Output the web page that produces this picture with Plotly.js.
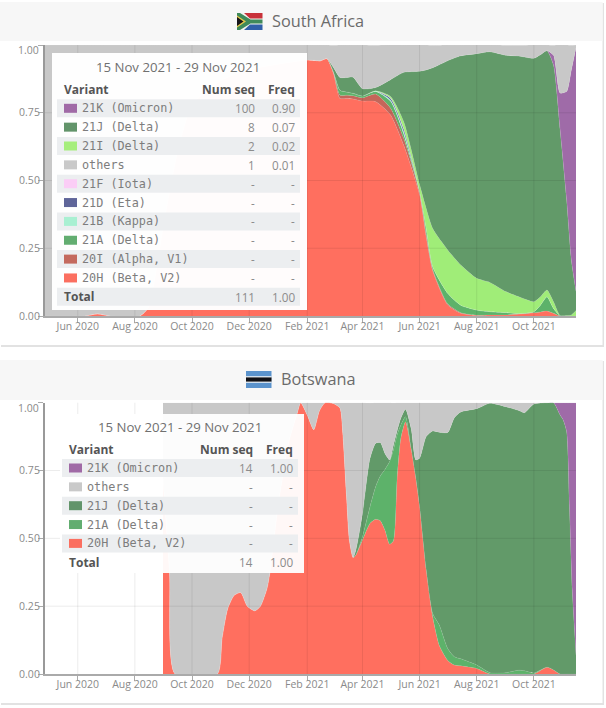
<!DOCTYPE html>
<html><head><meta charset="utf-8">
<script src="https://cdn.plot.ly/plotly-3.0.1.min.js"></script>
<style>html,body{margin:0;padding:0;background:#fff}#c{width:606px;height:708px}</style>
</head><body><div id="c"></div>
<script>
// ---------- South Africa data ----------
const zaDates=['2020-04-27','2020-06-08','2020-06-22','2020-07-06','2020-08-06','2020-08-15','2020-09-01','2020-09-15','2020-10-01','2020-11-01','2020-12-01','2021-01-01',
'2021-02-01','2021-02-15','2021-02-22','2021-03-01','2021-03-08','2021-03-15','2021-03-22','2021-04-01','2021-04-15','2021-05-01','2021-05-15','2021-06-01','2021-06-08','2021-06-15','2021-07-01','2021-07-15','2021-08-01','2021-08-15','2021-09-01','2021-09-15','2021-10-01','2021-10-08','2021-10-15','2021-10-22','2021-10-29','2021-11-05','2021-11-10','2021-11-15'];
const za20H=[0,0,.008,0,0,.03,.35,.6,.78,.87,.91,.93,.945,.942,.95,.895,.803,.803,.801,.793,.791,.742,.631,.447,.293,.167,.041,.01,.002,.004,.004,.007,.012,.015,.018,.01,0,0,0,0];
const za20I=[0,0,0,0,0,0,0,0,0,0,0,0,0,0,0,.004,.012,.012,.012,.012,.028,.025,.025,.009,.01,.005,.004,.002,.001,0,0,0,0,0,0,0,0,0,0,0];
const za21A=[0,0,0,0,0,0,0,0,0,0,0,0,0,0,0,.002,.018,.012,.009,.007,.009,.025,.016,.004,.021,.01,.039,.028,.019,.012,.009,.002,.004,.025,.053,.018,.002,0,0,0];
const za21B=[0,0,0,0,0,0,0,0,0,0,0,0,0,0,0,0,0,0,0,0,.002,.005,.009,0,0,0,0,0,0,0,0,0,0,0,0,0,0,0,0,0];
const za21D=[0,0,0,0,0,0,0,0,0,0,0,0,0,0,0,0,0,0,0,0,0,.006,.009,0,0,0,0,0,0,0,0,0,0,0,0,0,0,0,0,0];
const za21F=[0,0,0,0,0,0,0,0,0,0,0,0,0,0,0,0,0,0,0,0,0,.001,.002,0,0,0,0,0,0,0,0,0,0,0,0,0,0,0,0,0];
const za21I=[0,0,0,0,0,0,0,0,0,0,0,0,0,0,0,0,0,0,0,0,.001,.006,.026,.025,.074,.141,.16,.148,.117,.108,.077,.062,.037,.031,.025,.025,0,.002,.004,.02];
const za21J=[0,0,0,0,0,0,0,0,0,0,0,0,0,0,0,.016,.047,.053,.059,.027,.012,.062,.181,.418,.51,.593,.698,.772,.829,.851,.872,.888,.898,.893,.883,.872,.686,.426,.203,.07];
const za21K=[0,0,0,0,0,0,0,0,0,0,0,0,0,0,0,0,0,0,0,0,0,0,0,0,0,0,0,0,0,0,0,0,0,0,0,.037,.135,.4,.7,.9];
const zaOthers=[1,1,.992,1,1,.97,.65,.4,.22,.13,.09,.07,.055,.058,.05,.082,.12,.12,.119,.161,.156,.129,.102,.098,.092,.083,.058,.04,.033,.026,.037,.04,.049,.037,.021,.037,.178,.172,.092,.01];
// ---------- Botswana data ----------
const bwDates=['2020-08-31','2020-09-07','2020-09-13','2020-10-28','2020-11-02','2020-11-08','2020-11-15','2020-11-22','2020-11-29','2020-12-07','2020-12-13','2020-12-20','2020-12-23','2021-01-01','2021-01-12','2021-01-21','2021-01-25','2021-02-01','2021-02-08','2021-02-14','2021-02-20','2021-03-01','2021-03-08','2021-03-11','2021-03-15','2021-03-18','2021-03-22','2021-03-25','2021-04-01','2021-04-09','2021-04-15','2021-04-20','2021-04-25','2021-04-30','2021-05-04','2021-05-08','2021-05-12','2021-05-17','2021-05-23','2021-05-28','2021-06-01','2021-06-08','2021-06-15','2021-06-22','2021-07-01','2021-07-08','2021-07-15','2021-08-01','2021-08-15','2021-09-01','2021-09-15','2021-09-21','2021-10-01','2021-10-15','2021-10-22','2021-10-29','2021-11-01','2021-11-05','2021-11-08','2021-11-11','2021-11-15'];
const bw20H=[.72,.37,0,0,.13,.24,.29,.3,.25,.233,.25,.315,.37,.62,.85,.957,1,.955,.9,.97,1,.997,.98,.887,.654,.494,.429,.439,.494,.555,.57,.565,.53,.478,.49,.72,.87,.93,.83,.72,.617,.385,.21,.105,.05,.033,.03,.02,0,0,0,0,0,.025,.015,0,0,0,0,0,0];
const bw21A=[0,0,0,0,0,0,0,0,0,0,0,0,0,0,0,0,0,0,0,0,0,0,0,0,0,0,0,0,.012,.061,.12,.165,.224,.305,.335,.161,.048,.018,0,0,0,0,.013,.076,.044,.031,.026,.013,.005,.005,.014,.012,.004,0,0,0,0,0,0,0,0];
const bw21J=[0,0,0,0,0,0,0,0,0,0,0,0,0,0,0,0,0,0,0,0,0,0,0,0,0,0,0,.018,.086,.178,.16,.123,.059,.006,.018,.016,.025,.028,.075,.069,.178,.49,.673,.71,.796,.88,.91,.945,.993,.98,.957,.951,.991,.975,.985,.955,.939,.893,.617,.31,.07];
const bw21K=[0,0,0,0,0,0,0,0,0,0,0,0,0,0,0,0,0,0,0,0,0,0,0,0,0,0,0,0,0,0,0,0,0,0,0,0,0,0,0,0,0,0,0,0,0,0,0,0,0,0,0,0,0,0,0,.045,.061,.107,.383,.69,.93];
const bwOthers=[.28,.63,1,1,.87,.76,.71,.7,.75,.767,.75,.685,.63,.38,.15,.043,0,.045,.1,.03,0,.003,.02,.113,.346,.506,.571,.543,.408,.205,.15,.147,.187,.211,.156,.103,.057,.024,.095,.211,.205,.125,.104,.109,.11,.056,.034,.022,.002,.015,.029,.037,.005,0,0,0,0,0,0,0,0];
// ---------- axes ----------
const tickDates=['2020-06-01','2020-08-01','2020-10-01','2020-12-01','2021-02-01','2021-04-01','2021-06-01','2021-08-01','2021-10-01'];
const tickLabels=['Jun 2020','Aug 2020','Oct 2020','Dec 2020','Feb 2021','Apr 2021','Jun 2021','Aug 2021','Oct 2021'];
const yVals=[0,.25,.5,.75,1];
const yLabels=['0.00','0.25','0.50','0.75',''];
const xRange=['2020-04-27','2021-11-15'];
// ---------- tables ----------
const periodLabel='15 Nov 2021 - 29 Nov 2021';
const tableHead=['Variant','Num seq','Freq'];
const zaVariants=['21K (Omicron)','21J (Delta)','21I (Delta)','others','21F (Iota)','21D (Eta)','21B (Kappa)','21A (Delta)','20I (Alpha, V1)','20H (Beta, V2)'];
const zaSeq=['100','8','2','1','-','-','-','-','-','-'];
const zaFreq=['0.90','0.07','0.02','0.01','-','-','-','-','-','-'];
const zaTotal=['Total','111','1.00'];
const bwVariants=['21K (Omicron)','others','21J (Delta)','21A (Delta)','20H (Beta, V2)'];
const bwSeq=['14','-','-','-','-'];
const bwFreq=['1.00','-','-','-','-'];
const bwTotal=['Total','14','1.00'];
const fills={'20H':'rgba(255,95,78,.9)','20I':'rgba(190,85,72,.9)','21A':'rgba(75,170,90,.9)','21B':'rgba(160,240,205,.9)','21D':'rgba(60,70,140,.9)','21F':'rgba(250,195,245,.9)','21I':'rgba(150,235,105,.9)','21J':'rgba(76,140,84,.88)','21K':'rgba(146,86,156,.88)','others':'rgba(192,192,192,.88)'};
const swatch={'21K (Omicron)':'#a06aa6','21J (Delta)':'#62946a','21I (Delta)':'#a6ee7c','others':'#c9c9c9','21F (Iota)':'#fbcdf6','21D (Eta)':'#5f6599','21B (Kappa)':'#a9f0d2','21A (Delta)':'#62ad70','20I (Alpha, V1)':'#c46a5e','20H (Beta, V2)':'#fb6f60'};

const W=606,H=708, X0=45,X1=576;
const px=x=>x/W, py=y=>1-y/H;
const shapes=[],ann=[];
function rect(x0,y0,x1,y1,fill,layer,line){shapes.push({type:'rect',xref:'paper',yref:'paper',x0:px(x0),x1:px(x1),y0:py(y1),y1:py(y0),fillcolor:fill,line:line||{width:0},layer:layer||'above'});}
function poly(pts,fill){shapes.push({type:'path',xref:'paper',yref:'paper',path:'M'+pts.map(p=>px(p[0])+','+py(p[1])).join('L')+'Z',fillcolor:fill,line:{width:0},layer:'above'});}
function text(x,y,t,anchor,size,color,family,weight){const dx=anchor==='left'?-1:anchor==='right'?2:0;ann.push({xref:'paper',yref:'paper',x:px(x+dx),y:py(y),text:t,showarrow:false,xanchor:anchor,yanchor:'middle',borderpad:0,font:{size:size,color:color,family:family||'Open Sans, sans-serif',weight:weight||400}});}

// cards
function card(y0,y1,yh){
  rect(1,y0+1,604,y1+2,'#e2e2e2','below');
  rect(0,y0,602.5,y1,'#ffffff','below');
  rect(0,y0,602.5,yh,'#f7f7f7','below');
}
card(2,345,41); card(360,703,400);

function grid(xa,ya){
  const g='rgba(0,0,0,.08)';
  tickDates.forEach(d=>shapes.push({type:'line',xref:xa,yref:ya+' domain',x0:d,x1:d,y0:0,y1:1,line:{color:g,width:1},layer:'above'}));
  yVals.slice(1,4).forEach(v=>shapes.push({type:'line',xref:xa+' domain',yref:ya,x0:0,x1:1,y0:v,y1:v,line:{color:g,width:1},layer:'above'}));
}
grid('x','y'); grid('x2','y2');

// flags
const fx=237,fy=13;
rect(fx,fy,fx+25.5,fy+17,'#f4f4f0');
poly([[fx+7,fy],[fx+25.5,fy],[fx+25.5,fy+5.4],[fx+13,fy+5.4]],'#c8323a');
poly([[fx+7,fy+17],[fx+25.5,fy+17],[fx+25.5,fy+11.6],[fx+13,fy+11.6]],'#2f5fa8');
poly([[fx,fy],[fx+3,fy],[fx+13.5,fy+6.6],[fx+25.5,fy+6.6],[fx+25.5,fy+10.4],[fx+13.5,fy+10.4],[fx+3,fy+17],[fx,fy+17]],'#3f8a5a');
poly([[fx,fy+2.5],[fx+9,fy+8.5],[fx,fy+14.5]],'#e6c84a');
poly([[fx,fy+4],[fx+6.5,fy+8.5],[fx,fy+13]],'#15151a');
const bx=246,by=371;
rect(bx,by,bx+25.5,by+17,'#5b93cc');
rect(bx,by+5.2,bx+25.5,by+11.8,'#f2f4f6');
rect(bx,by+6.4,bx+25.5,by+10.6,'#101014');
text(271.5,21,'South Africa','left',16.3,'#6b6b6b');
text(281,379,'Botswana','left',16.3,'#6b6b6b');

// y "1.00" sits just under its tick
[['y',45],['y2',402.7]].forEach(([ya,p])=>text(37.5,p+5,'1.00','right',10.5,'#8a8a8a'));

function table(o){
  rect(o.x0,o.y0,o.x1,o.y1,o.bg);
  text(o.cx,o.yTitle,periodLabel,'center',13.2,'#707070');
  text(o.xLab,o.yHead,tableHead[0],'left',12,'#555','Open Sans, sans-serif',700);
  text(o.xSeq,o.yHead,tableHead[1],'right',12,'#555','Open Sans, sans-serif',700);
  text(o.xFreq,o.yHead,tableHead[2],'right',12,'#555','Open Sans, sans-serif',700);
  const n=o.names.length;
  for(let i=0;i<=n;i++){
    const y=o.yRow+i*o.step;
    if(i%2===0) rect(o.bx0,y-9,o.bx1,y+9,'#eceef0');
    if(i<n){
      rect(o.xLab,y-4.5,o.xLab+13,y+4.5,swatch[o.names[i]]);
      text(o.xLab+18,y,o.names[i],'left',11.8,'#7d7d7d','DejaVu Sans Mono, monospace');
      text(o.xSeq,y,o.seq[i],'right',11.7,'#8c8c8c');
      text(o.xFreq,y,o.freq[i],'right',11.7,'#8c8c8c');
    } else {
      text(o.xLab,y,o.total[0],'left',12,'#555','Open Sans, sans-serif',700);
      text(o.xSeq,y,o.total[1],'right',11.7,'#8c8c8c');
      text(o.xFreq,y,o.total[2],'right',11.7,'#8c8c8c');
    }
  }
}
table({x0:52,y0:53,x1:307,y1:310,bg:'rgba(255,255,255,.98)',cx:178,yTitle:67.5,yHead:89,yRow:108.3,step:18.85,bx0:57,bx1:300,xLab:64,xSeq:254,xFreq:294,names:zaVariants,seq:zaSeq,freq:zaFreq,total:zaTotal});
table({x0:60,y0:414,x1:304,y1:573,bg:'rgba(255,255,255,.95)',cx:180,yTitle:427,yHead:449,yRow:468,step:18.85,bx0:62,bx1:298,xLab:69,xSeq:252,xFreq:292,names:bwVariants,seq:bwSeq,freq:bwFreq,total:bwTotal});

function area(x,y,key,xa,ya,group){
  return {type:'scatter',mode:'lines',x:x,y:y,name:key,xaxis:xa,yaxis:ya,stackgroup:group,fillcolor:fills[key],
    line:{shape:'spline',smoothing:.6,width:.5,color:'rgba(255,255,255,.18)'},hoverinfo:'skip',showlegend:false};
}
const traces=[
 area(zaDates,za20H,'20H','x','y','za'),area(zaDates,za20I,'20I','x','y','za'),area(zaDates,za21A,'21A','x','y','za'),
 area(zaDates,za21B,'21B','x','y','za'),area(zaDates,za21D,'21D','x','y','za'),area(zaDates,za21F,'21F','x','y','za'),
 area(zaDates,za21I,'21I','x','y','za'),area(zaDates,za21J,'21J','x','y','za'),area(zaDates,za21K,'21K','x','y','za'),
 area(zaDates,zaOthers,'others','x','y','za'),
 area(bwDates,bw20H,'20H','x2','y2','bw'),area(bwDates,bw21A,'21A','x2','y2','bw'),area(bwDates,bw21J,'21J','x2','y2','bw'),
 area(bwDates,bw21K,'21K','x2','y2','bw'),area(bwDates,bwOthers,'others','x2','y2','bw')
];
const xAxis=a=>({domain:[px(X0),px(X1)],range:xRange,type:'date',anchor:a,tickmode:'array',tickvals:tickDates,ticktext:tickLabels,ticks:'outside',ticklen:5,tickcolor:'#aaa',showline:true,linecolor:'#aaa',linewidth:1.5,showgrid:false,zeroline:false,ticklabelstandoff:-5,tickfont:{size:10.5,color:'#8a8a8a',family:'Open Sans, sans-serif'},tickangle:0});
const yAxis=(a,d)=>({domain:d,range:[0,1],anchor:a,tickmode:'array',tickvals:yVals,ticktext:yLabels,ticks:'outside',ticklen:5,tickcolor:'#aaa',showline:true,linecolor:'#999',linewidth:2,showgrid:false,zeroline:false,ticklabelstandoff:-4,tickfont:{size:10.5,color:'#8a8a8a',family:'Open Sans, sans-serif'}});
const layout={width:W,height:H,margin:{l:0,r:0,t:0,b:0},paper_bgcolor:'#ffffff',plot_bgcolor:'rgba(0,0,0,0)',showlegend:false,
 xaxis:xAxis('y'),yaxis:yAxis('x',[py(316),py(45)]),xaxis2:xAxis('y2'),yaxis2:yAxis('x2',[py(674),py(402.7)]),shapes:shapes,annotations:ann};
Plotly.newPlot('c',traces,layout,{staticPlot:true,displayModeBar:false});
</script></body></html>
